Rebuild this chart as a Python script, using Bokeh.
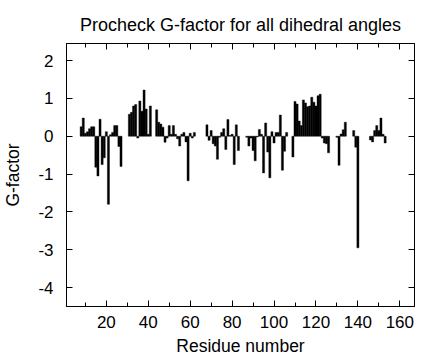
from bokeh.plotting import figure
from bokeh.models import FixedTicker, LinearAxis, CustomJSTickFormatter, Range1d
from bokeh.embed import file_html
from bokeh.resources import INLINE

residues = [8, 9, 10, 11, 12, 13, 14, 15, 16, 17, 18, 19, 20, 21, 22, 23, 24, 25, 26, 27,
            31, 32, 33, 34, 35, 36, 37, 38, 39, 40, 41,
            44, 45, 46, 47, 48, 49, 50, 51, 52, 53, 54, 55, 56, 57, 58, 59, 60, 61, 62,
            68, 69, 70, 71, 72, 73, 74, 75, 76, 77, 78, 79, 80, 81, 82, 83,
            87, 88, 89, 90, 91, 92, 93, 94, 95, 96, 97, 98, 99, 100, 101, 102, 103, 104, 105, 106,
            109, 110, 111, 112, 113, 114, 115, 116, 117, 118, 119, 120, 121, 122, 123, 124, 125, 126,
            130, 131, 132, 133, 134, 138, 139, 140,
            146, 147, 148, 149, 150, 151, 152, 153]
gfactor = [0.25, 0.48, 0.08, 0.12, 0.2, 0.25, 0.25, -0.82, -1.05, 0.45, -0.75, -0.57, 0.12, -1.8, 0.04, 0.1, 0.28, 0.28, -0.27, -0.8,
           0.58, 0.63, 0.8, 0.84, -0.05, 0.93, 0.66, 1.22, 0.72, 0.05, 0.8,
           0.7, 0.37, 0.32, 0.24, -0.16, -0.05, 0.28, 0.05, 0.28, 0.05, -0.07, -0.26, 0.05, 0.1, -0.15, -1.18, 0.08, -0.05, 0.1,
           0.3, -0.11, 0.15, -0.2, -0.26, -0.61, -0.03, 0.1, 0.2, -0.35, 0.44, 0.02, 0.05, -0.75, 0.3, -0.38,
           -0.03, -0.26, -0.05, -0.38, -0.65, -0.02, 0.18, 0.05, -0.97, 0.35, -0.42, -1.1, 0.12, -0.18, 0.1, 0.1, 0.56, -0.9, -0.4, 0.1,
           -0.55, 0.92, 0.85, 0.4, 0.28, 0.96, 0.88, 0.78, 0.8, 1.03, 0.9, 0.8, 1.07, 1.11, -0.05, -0.18, -0.2, -0.44,
           -0.03, -0.77, 0.06, 0.17, 0.37, 0.15, -0.29, -2.95,
           -0.1, -0.15, 0.15, 0.28, 0.15, 0.48, 0.05, -0.18]

x_ticks = [20, 40, 60, 80, 100, 120, 140, 160]
x_minor_ticks = [10, 30, 50, 70, 90, 110, 130, 150]
y_ticks = [-4, -3, -2, -1, 0, 1, 2]
y_tick_labels = ["-4", "-3", "-2", "-1", "0", "1", "2"]

FONT = "Liberation Sans"

p = figure(width=421, height=360, output_backend="svg", toolbar_location=None,
           x_range=Range1d(1, 167), y_range=Range1d(-4.5, 2.45),
           min_border_left=63, min_border_right=7, min_border_top=43, min_border_bottom=54,
           title="Procheck G-factor for all dihedral angles")
p.title.text_font = FONT
p.title.text_font_size = "18px"
p.title.text_font_style = "normal"
p.title.text_color = "black"
p.title.align = "center"
p.title.standoff = 18
p.grid.visible = False
p.outline_line_color = "black"
p.background_fill_color = "white"
p.border_fill_color = "white"

p.vbar(x=residues, top=gfactor, bottom=0, width=1, fill_color="black",
       line_color="black", line_width=0.4)

xt = FixedTicker(ticks=x_ticks, minor_ticks=x_minor_ticks)
yt = FixedTicker(ticks=y_ticks, minor_ticks=[])

def style(ax):
    ax.axis_line_color = "black"
    ax.axis_line_width = 1
    ax.major_tick_in = 6
    ax.major_tick_out = 0
    ax.minor_tick_in = 4
    ax.minor_tick_out = 0
    ax.major_tick_line_color = "black"
    ax.minor_tick_line_color = "black"
    ax.major_label_text_font = FONT
    ax.major_label_text_font_size = "17px"
    ax.major_label_text_color = "black"
    ax.axis_label_text_font = FONT
    ax.axis_label_text_font_size = "17.5px"
    ax.axis_label_text_font_style = "normal"
    ax.axis_label_text_color = "black"

xa = p.xaxis[0]
xa.ticker = xt
style(xa)
xa.axis_label = "Residue number"
xa.major_label_standoff = 9
xa.axis_label_standoff = 5

ya = p.yaxis[0]
ya.ticker = yt
style(ya)
ya.axis_label = "G-factor"
ya.major_label_overrides = dict(zip(y_ticks, y_tick_labels))
ya.major_label_standoff = 13
ya.axis_label_standoff = 12

blank = "return ''"
top = LinearAxis(ticker=xt, formatter=CustomJSTickFormatter(code=blank))
style(top)
top.major_label_standoff = 0
p.add_layout(top, "above")
right = LinearAxis(ticker=yt, formatter=CustomJSTickFormatter(code=blank))
style(right)
right.major_label_standoff = 0
p.add_layout(right, "right")

open("out.html", "w").write(file_html(p, INLINE))
